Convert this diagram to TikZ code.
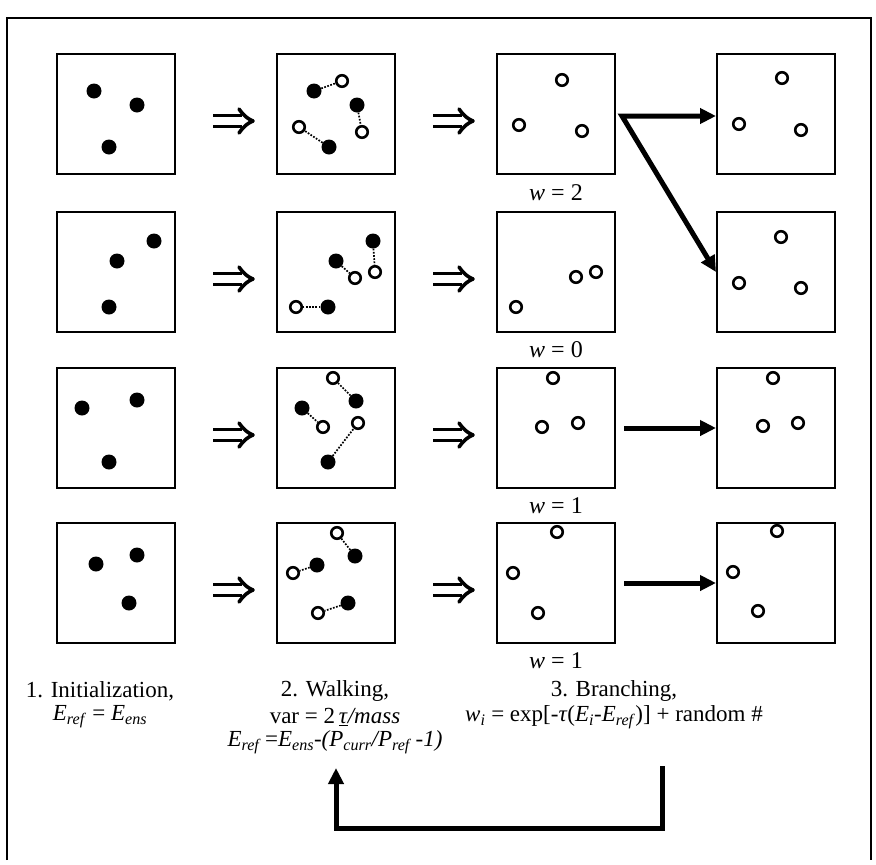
\documentclass[tikz,border=0pt]{standalone}
\usepackage{fontspec}
\setmainfont{Liberation Serif}
\usetikzlibrary{arrows.meta}
\newcommand\isub[1]{\textsubscript{\textit{#1}}}
\begin{document}
\begin{tikzpicture}[x=1pt,y=-1pt,
  box/.style={draw,line width=2pt,minimum width=118pt,minimum height=120pt,inner sep=0pt},
  fdot/.style={circle,fill=black,inner sep=0pt,minimum size=15pt},
  odot/.style={circle,draw,line width=2.6pt,fill=white,inner sep=0pt,minimum size=11.5pt},
  link/.style={line width=1.7pt,dash pattern=on 1.7pt off 1.5pt},
  implies/.pic={
    \draw[line width=3.2pt] (-20,-5.5) -- (9,-5.5) (-20,5.5) -- (9,5.5);
    \draw[line width=3.6pt,line join=round,line cap=round] (6,-12) .. controls (11,-5) and (15,-2) .. (20,0) .. controls (15,2) and (11,5) .. (6,12);
  },
  tarrow/.style={line width=5pt,-{Triangle[length=16pt,width=15pt]}},
  txt/.style={font=\fontsize{23}{25}\selectfont,inner sep=0pt,align=center},
  wlab/.style={font=\fontsize{24}{26}\selectfont,inner sep=0pt}]
\useasboundingbox (0,0) rectangle (876,865);
% frame
\draw[line width=2pt] (7,860) -- (7,18) -- (871,18) -- (871,860);
% boxes
\foreach \r/\y in {1/114,2/272,3/428,4/583}{
  \foreach \c/\x in {1/116,2/336,3/556,4/776}{
    \node[box] (b\r\c) at (\x,\y) {};
  }
}
% implies symbols
\foreach \y in {121,279,435,590}{
  \pic at (233,\y) {implies};
  \pic at (453,\y) {implies};
}
% row 1
\node[fdot] (f111) at (94,91) {};
\node[fdot] (f112) at (137,105) {};
\node[fdot] (f113) at (109,147) {};
\node[fdot] (f121) at (314,91) {};
\node[fdot] (f122) at (357,105) {};
\node[fdot] (f123) at (329,147) {};
\node[odot] (o121) at (342,81) {};
\node[odot] (o122) at (362,132) {};
\node[odot] (o123) at (299,127) {};
\draw[link] (f121) -- (o121); \draw[link] (f122) -- (o122); \draw[link] (f123) -- (o123);
\node[odot] (o131) at (562,80) {};
\node[odot] (o132) at (582,131) {};
\node[odot] (o133) at (519,125) {};
\node[odot] (o141) at (782,78) {};
\node[odot] (o142) at (801,130) {};
\node[odot] (o143) at (739,124) {};
% row 2
\node[fdot] (f211) at (154,241) {};
\node[fdot] (f212) at (117,261) {};
\node[fdot] (f213) at (109,307) {};
\node[fdot] (f221) at (373,241) {};
\node[fdot] (f222) at (336,261) {};
\node[fdot] (f223) at (328,307) {};
\node[odot] (o221) at (375,272) {};
\node[odot] (o222) at (355,278) {};
\node[odot] (o223) at (296,307) {};
\draw[link] (f221) -- (o221); \draw[link] (f222) -- (o222); \draw[link] (f223) -- (o223);
\node[odot] (o231) at (596,272) {};
\node[odot] (o232) at (576,277) {};
\node[odot] (o233) at (516,307) {};
\node[odot] (o241) at (781,237) {};
\node[odot] (o242) at (739,283) {};
\node[odot] (o243) at (801,288) {};
% row 3
\node[fdot] (f311) at (82,408) {};
\node[fdot] (f312) at (137,400) {};
\node[fdot] (f313) at (109,462) {};
\node[fdot] (f321) at (356,401) {};
\node[fdot] (f322) at (302,408) {};
\node[fdot] (f323) at (328,462) {};
\node[odot] (o321) at (333,378) {};
\node[odot] (o322) at (323,427) {};
\node[odot] (o323) at (358,423) {};
\draw[link] (f321) -- (o321); \draw[link] (f322) -- (o322); \draw[link] (f323) -- (o323);
\node[odot] (o331) at (553,378) {};
\node[odot] (o332) at (542,427) {};
\node[odot] (o333) at (578,423) {};
\node[odot] (o341) at (773,378) {};
\node[odot] (o342) at (763,426) {};
\node[odot] (o343) at (798,423) {};
% row 4
\node[fdot] (f411) at (96,564) {};
\node[fdot] (f412) at (137,555) {};
\node[fdot] (f413) at (129,603) {};
\node[fdot] (f421) at (355,556) {};
\node[fdot] (f422) at (317,565) {};
\node[fdot] (f423) at (348,603) {};
\node[odot] (o421) at (337,533) {};
\node[odot] (o422) at (293,573) {};
\node[odot] (o423) at (318,613) {};
\draw[link] (f421) -- (o421); \draw[link] (f422) -- (o422); \draw[link] (f423) -- (o423);
\node[odot] (o431) at (557,532) {};
\node[odot] (o432) at (513,573) {};
\node[odot] (o433) at (538,613) {};
\node[odot] (o441) at (777,531) {};
\node[odot] (o442) at (733,572) {};
\node[odot] (o443) at (758,611) {};
% weights
\node[wlab] (w1) at (556,193) {\textit{w} = 2};
\node[wlab] (w2) at (556,350) {\textit{w} = 0};
\node[wlab] (w3) at (556,506) {\textit{w} = 1};
\node[wlab] (w4) at (556,661) {\textit{w} = 1};
% branching arrows
\coordinate (s1) at (622,116);
\draw[line width=5pt,line join=miter,{Triangle[length=16pt,width=15pt]}-{Triangle[length=16pt,width=15pt]}] (b14.west |- s1) -- (s1) -- (b24.west);
\draw[tarrow] ([xshift=8pt]b33.east) -- (b34.west);
\draw[tarrow] ([xshift=8pt]b43.east) -- (b44.west);
% captions
\node[txt] (t1a) at (100,691) {1. Initialization,};
\node[txt] (t1b) at (100,717) {\textit{E}\isub{ref} = \textit{E}\isub{ens}};
\node[txt] (t2a) at (335,691) {2. Walking,};
\node[txt] (t2b) at (335,717) {var = 2\,\underline{\textit{τ}}\textit{/mass}};
\node[txt] (t2c) at (335,742) {\textit{E}\isub{ref}\,=\textit{E}\isub{ens}\textit{-(P}\isub{curr}\textit{/P}\isub{ref}\textit{\,-1)}};
\node[txt] (t3a) at (614,691) {3. Branching,};
\node[txt] (t3b) at (614,717) {\textit{w}\isub{i} = exp[-\textit{τ}(\textit{E}\isub{i}-\textit{E}\isub{ref})] + random \#};
% feedback arrow
\coordinate (fa) at (662,766);
\coordinate (fb) at (662,828);
\coordinate (fc) at (336,828);
\coordinate (fd) at (336,768);
\draw[tarrow,line join=miter] (fa) -- (fb) -- (fc) -- (fd);
\end{tikzpicture}
\end{document}
